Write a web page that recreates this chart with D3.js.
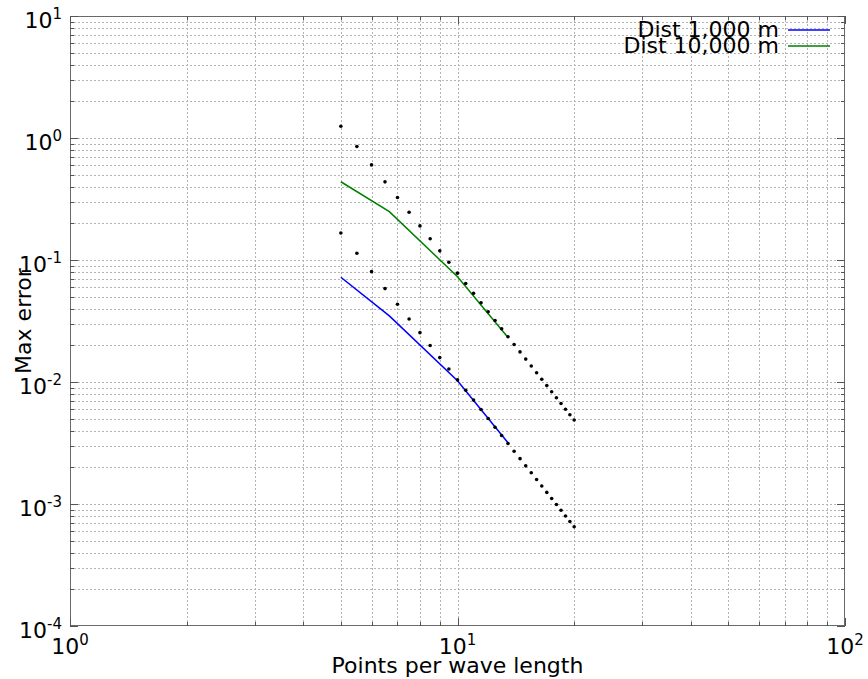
<!DOCTYPE html>
<html>
<head>
<meta charset="utf-8">
<script src="https://cdn.jsdelivr.net/npm/d3@7"></script>
<style>
  html, body { margin: 0; padding: 0; background: #fff; }
  svg { display: block; font-family: "DejaVu Sans", sans-serif; }
</style>
</head>
<body>
<svg id="chart" width="868" height="679"></svg>
<script>
// ---- data ----
const dotX = [5, 5.5, 6, 6.5, 7, 7.5, 8, 8.5, 9, 9.5, 10, 10.5, 11, 11.5, 12, 12.5,
              13, 13.5, 14, 14.5, 15, 15.5, 16, 16.5, 17, 17.5, 18, 18.5, 19, 19.5, 20];
const dotsUpper = [1.248, 0.8524, 0.6019, 0.4370, 0.3249, 0.2465, 0.1904, 0.1494, 0.1189,
                   0.09576, 0.0780, 0.06417, 0.05328, 0.04460, 0.03762, 0.03195, 0.02731,
                   0.02348, 0.02030, 0.01765, 0.01541, 0.01351, 0.01190, 0.01052, 0.009339,
                   0.008316, 0.007430, 0.006659, 0.005985, 0.005395, 0.004875];
const dotsLower = [0.1664, 0.1137, 0.08025, 0.05826, 0.04332, 0.03287, 0.02539, 0.01992,
                   0.01585, 0.01277, 0.01040, 0.008556, 0.007103, 0.005946, 0.005015,
                   0.004260, 0.003641, 0.003131, 0.002707, 0.002353, 0.002054, 0.001802,
                   0.001587, 0.001403, 0.001245, 0.001109, 0.0009907, 0.0008879, 0.0007980,
                   0.0007193, 0.0006500];
const lineX = [5, 6.67, 10, 13.5];
const dist1000 = [0.0722, 0.0348, 0.01025, 0.00318];
const dist10000 = [0.438, 0.249, 0.073, 0.0232];
const seriesNames = ["Dist 1,000 m", "Dist 10,000 m"];
const seriesColors = ["#0000ff", "#008000"];
const xTickExps = [0, 1, 2];
const yTickExps = [-4, -3, -2, -1, 0, 1];
const xLabel = "Points per wave length";
const yLabel = "Max error";

(function () {
// ---- layout ----
const svg = d3.select("#chart");
const pl = 70, pr = 845, pt = 16, pb = 626;
const x = d3.scaleLog().domain([1, 100]).range([pl, pr]);
const y = d3.scaleLog().domain([1e-4, 10]).range([pb, pt]);

// minor values
const xMinor = [], yMinor = [];
for (let e = 0; e < 2; e++) for (let m = 2; m <= 9; m++) xMinor.push(m * Math.pow(10, e));
for (let e = -4; e < 1; e++) for (let m = 2; m <= 9; m++) yMinor.push(m * Math.pow(10, e));
const xMajor = xTickExps.map(e => Math.pow(10, e));
const yMajor = yTickExps.map(e => Math.pow(10, e));

// grid
const grid = svg.append("g").attr("stroke", "#b4b4b4").attr("stroke-width", 1)
  .attr("stroke-dasharray", "2,2").attr("shape-rendering", "crispEdges");
xMinor.concat(xMajor.slice(1, -1)).forEach(v => {
  grid.append("line").attr("x1", Math.round(x(v)) + 0.5).attr("x2", Math.round(x(v)) + 0.5)
    .attr("y1", pt).attr("y2", pb);
});
yMinor.concat(yMajor.slice(1, -1)).forEach(v => {
  grid.append("line").attr("y1", Math.round(y(v)) + 0.5).attr("y2", Math.round(y(v)) + 0.5)
    .attr("x1", pl).attr("x2", pr);
});

// frame
svg.append("rect").attr("x", pl + 0.5).attr("y", pt + 0.5)
  .attr("width", pr - pl - 1).attr("height", pb - pt - 1)
  .attr("fill", "none").attr("stroke", "#6a6a6a").attr("stroke-width", 1)
  .attr("shape-rendering", "crispEdges");

// ticks (inside, all four sides)
const ticks = svg.append("g").attr("stroke", "#555").attr("stroke-width", 1)
  .attr("shape-rendering", "crispEdges");
function xt(v, len) {
  const px = Math.round(x(v)) + 0.5;
  ticks.append("line").attr("x1", px).attr("x2", px).attr("y1", pb).attr("y2", pb - len);
  ticks.append("line").attr("x1", px).attr("x2", px).attr("y1", pt).attr("y2", pt + len);
}
function yt(v, len) {
  const py = Math.round(y(v)) + 0.5;
  ticks.append("line").attr("y1", py).attr("y2", py).attr("x1", pl).attr("x2", pl + len);
  ticks.append("line").attr("y1", py).attr("y2", py).attr("x1", pr).attr("x2", pr - len);
}
xMinor.forEach(v => xt(v, 4)); xMajor.forEach(v => xt(v, 8));
yMinor.forEach(v => yt(v, 4)); yMajor.forEach(v => yt(v, 8));

// tick labels
const fs = 22;
xTickExps.forEach(e => {
  const t = svg.append("text").attr("x", x(Math.pow(10, e))).attr("y", 654)
    .attr("text-anchor", "middle").attr("font-size", fs).attr("fill", "#000");
  t.append("tspan").text("10");
  t.append("tspan").attr("font-size", 15).attr("dy", -9).text(e);
});
yTickExps.forEach(e => {
  const t = svg.append("text").attr("x", 62).attr("y", y(Math.pow(10, e)) + 12)
    .attr("text-anchor", "end").attr("font-size", fs).attr("fill", "#000");
  t.append("tspan").text("10");
  t.append("tspan").attr("font-size", 15).attr("dy", -9).text(e);
});

// axis labels
svg.append("text").attr("x", (pl + pr) / 2).attr("y", 673)
  .attr("text-anchor", "middle").attr("font-size", 22).text(xLabel);
svg.append("text").attr("transform", `translate(31,${(pt + pb) / 2}) rotate(-90)`)
  .attr("text-anchor", "middle").attr("font-size", 22).text(yLabel);

// lines
const line = d3.line().x(d => x(d[0])).y(d => y(d[1]));
[dist1000, dist10000].forEach((vals, i) => {
  svg.append("path").datum(lineX.map((v, j) => [v, vals[j]]))
    .attr("d", line).attr("fill", "none").attr("stroke", seriesColors[i]).attr("stroke-width", 1.5);
});

// dots
[dotsUpper, dotsLower].forEach(vals => {
  svg.append("g").selectAll("circle").data(dotX.map((v, j) => [v, vals[j]])).join("circle")
    .attr("cx", d => x(d[0])).attr("cy", d => y(d[1])).attr("r", 1.8).attr("fill", "#000");
});

// legend
seriesNames.forEach((name, i) => {
  const by = 37 + i * 16;
  svg.append("text").attr("x", 779).attr("y", by).attr("text-anchor", "end")
    .attr("font-size", fs).attr("fill", "#000").text(name);
  svg.append("line").attr("x1", 788).attr("x2", 830).attr("y1", by - 7).attr("y2", by - 7)
    .attr("stroke", seriesColors[i]).attr("stroke-width", 1.5);
});
})();
</script>
</body>
</html>
